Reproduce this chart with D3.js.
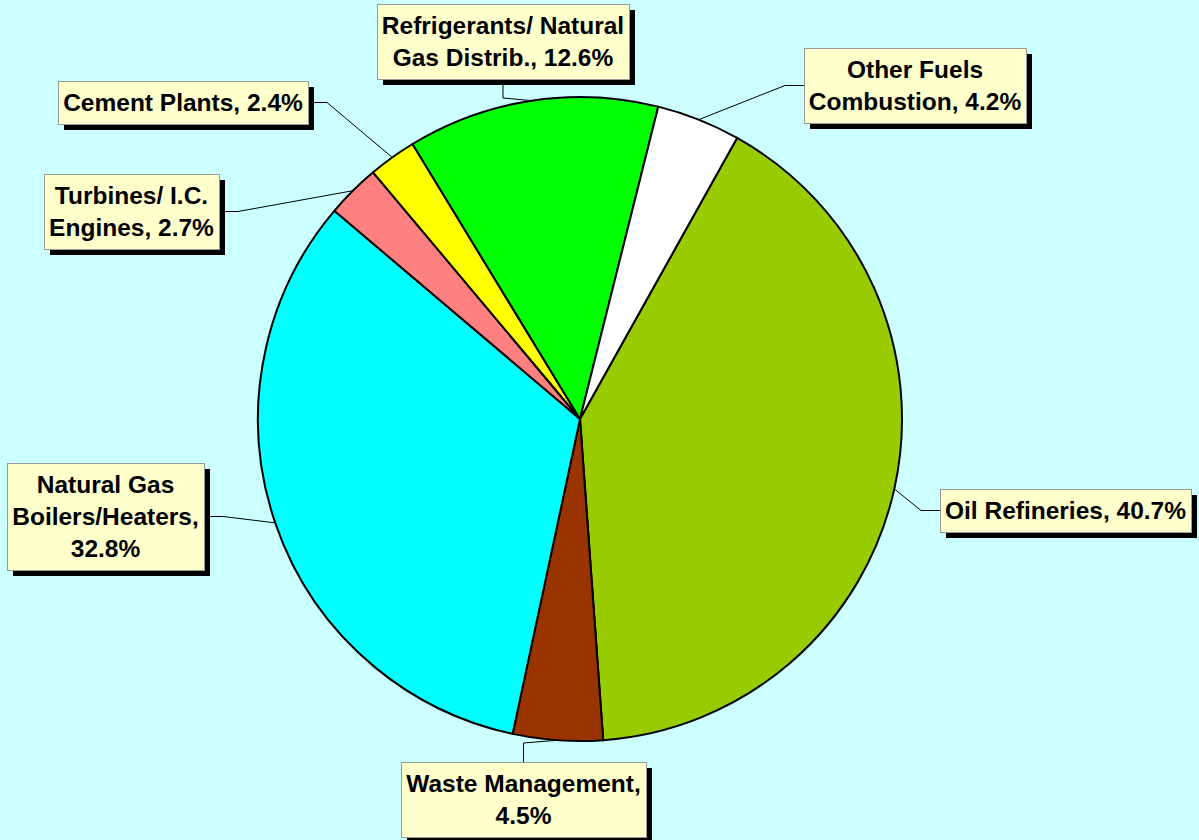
<!DOCTYPE html>
<html lang="en">
<head>
  <meta charset="UTF-8">
  <title>Emission Sources Pie</title>
  <script src="https://d3js.org/d3.v7.min.js"></script>
  <style>
    body { margin: 0; background: #ccffff; }
    svg { display: block; }
    .label text { font: bold 24.5px "Liberation Sans", Arial, sans-serif; fill: #000; }
    .leader { fill: none; stroke: #000; stroke-width: 1px; }
  </style>
</head>
<body>
  <svg id="chart"></svg>
  <script>
    // slice data, clockwise starting at the top-right
    const categories = ["Oil Refineries", "Waste Management", "Natural Gas Boilers/Heaters",
      "Turbines/ I.C. Engines", "Cement Plants", "Refrigerants/ Natural Gas Distrib.", "Other Fuels Combustion"];
    const values = [40.7, 4.5, 32.8, 2.7, 2.4, 12.6, 4.2];
    const colors = ["#99cc00", "#993300", "#00ffff", "#ff8080", "#ffff00", "#00ff00", "#ffffff"];
    // label text lines as they wrap in the chart
    const labelLines = [
      ["Oil Refineries, 40.7%"],
      ["Waste Management,", "4.5%"],
      ["Natural Gas", "Boilers/Heaters,", "32.8%"],
      ["Turbines/ I.C.", "Engines, 2.7%"],
      ["Cement Plants, 2.4%"],
      ["Refrigerants/ Natural", "Gas Distrib., 12.6%"],
      ["Other Fuels", "Combustion, 4.2%"]
    ];
    // label box placement: left, top, side the leader attaches to
    const labelPlace = [
      [940, 489, "left"], [401, 762, "top"], [7, 463, "right"], [44, 174, "right"],
      [58, 81, "right"], [377, 4, "bottom"], [804, 48, "left"]
    ];

    const width = 1199, height = 840;
    const cx = 580, cy = 419, radius = 322;
    const lineH = 32, padX = 5, padY = 5.5, shadow = 6, elbow = 19;

    const svg = d3.select("#chart").attr("width", width).attr("height", height);
    svg.append("rect").attr("width", width).attr("height", height).attr("fill", "#ccffff");

    const start = 29.2 * Math.PI / 180;
    const pie = d3.pie().sort(null).value(d => d).startAngle(start).endAngle(start + 2 * Math.PI);
    const arcs = pie(values);
    const arc = d3.arc().innerRadius(0).outerRadius(radius);

    const g = svg.append("g").attr("transform", `translate(${cx},${cy})`);

    // pie slices
    g.selectAll("path.slice")
      .data(arcs)
      .enter().append("path")
      .attr("class", "slice")
      .attr("d", arc)
      .attr("fill", (d, i) => colors[i])
      .attr("stroke", "#000")
      .attr("stroke-width", 2)
      .attr("stroke-linejoin", "round");

    // labels
    const labels = svg.selectAll("g.label")
      .data(arcs)
      .enter().append("g")
      .attr("class", "label");

    labels.each(function (d, i) {
      const lab = d3.select(this);
      const lines = labelLines[i];
      const [x0, y0, side] = labelPlace[i];

      const shadowRect = lab.append("rect").attr("fill", "#000");
      const box = lab.append("rect").attr("fill", "#ffffcc").attr("stroke", "#999").attr("stroke-width", 1);
      const txt = lab.append("text").attr("text-anchor", "middle");
      lines.forEach((s, k) => txt.append("tspan").text(s));

      let w = 0;
      txt.selectAll("tspan").each(function () { w = Math.max(w, this.getComputedTextLength()); });
      const bw = Math.round(w + 2 * padX);
      const bh = lines.length * lineH + 2 * padY;
      const mx = x0 + bw / 2, my = y0 + bh / 2;

      shadowRect.attr("x", x0 + shadow).attr("y", y0 + shadow).attr("width", bw).attr("height", bh);
      box.attr("x", x0 + 0.5).attr("y", y0 + 0.5).attr("width", bw).attr("height", bh);
      txt.selectAll("tspan")
        .attr("x", mx)
        .attr("y", (s, k) => my + (k - (lines.length - 1) / 2) * lineH)
        .attr("dy", "0.35em");

      // leader line from slice edge to box
      const a = (d.startAngle + d.endAngle) / 2;
      const p0 = [cx + radius * Math.sin(a), cy - radius * Math.cos(a)];
      let p1, p2;
      if (side === "left") { p2 = [x0, my]; p1 = [x0 - elbow, my]; }
      else if (side === "right") { p2 = [x0 + bw, my]; p1 = [x0 + bw + elbow, my]; }
      else if (side === "top") { p2 = [mx, y0]; p1 = [mx, y0 - elbow]; }
      else { p2 = [mx, y0 + bh]; p1 = [mx, y0 + bh + elbow]; }

      svg.insert("path", "g.label")
        .attr("class", "leader")
        .attr("d", d3.line()([p0, p1, p2]));
    });
  </script>
</body>
</html>
